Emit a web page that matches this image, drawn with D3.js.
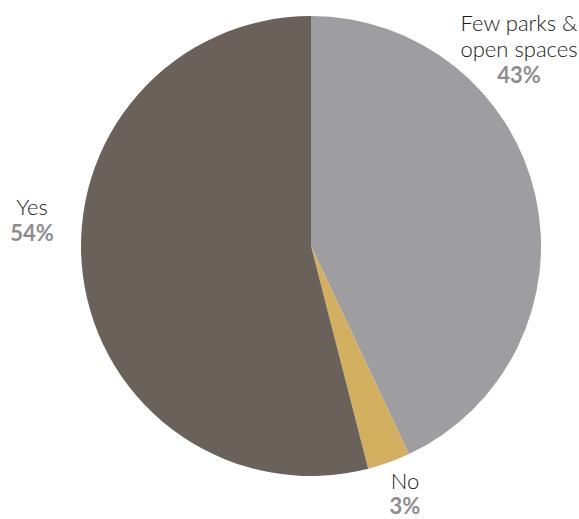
<!DOCTYPE html>
<html><head><meta charset="utf-8">
<script src="https://cdn.jsdelivr.net/npm/d3@7"></script>
<style>body{margin:0;background:#fff}svg{display:block}</style>
</head><body>
<script>
const categories = ["Few parks &\nopen spaces", "No", "Yes"];
const values = [43, 3, 54];
const percentLabels = ["43%", "3%", "54%"];
const colors = ["#9e9d9f", "#d3b05f", "#6b615b"];

const W = 579, H = 519;
const cx = 311, cy = 246, R = 230;
const svg = d3.select("body").append("svg").attr("width", W).attr("height", H);
const g = svg.append("g").attr("transform", `translate(${cx},${cy})`);
const pie = d3.pie().sort(null).value(d => d)(values);
const arc = d3.arc().innerRadius(0).outerRadius(R);
g.selectAll("path").data(pie).enter().append("path")
  .attr("d", arc).attr("fill", (d, i) => colors[i]);

// label positions (anchor centers, first baseline)
const labelPos = [[519, 31], [405, 489], [32, 215]];
const lh = 26;
categories.forEach((c, i) => {
  const lines = c.split("\n");
  const t = svg.append("text").attr("text-anchor", "middle")
    .attr("font-family", "Lato, 'Open Sans', sans-serif");
  lines.forEach((ln, j) => {
    t.append("tspan").attr("x", labelPos[i][0]).attr("y", labelPos[i][1] + j * lh)
      .attr("font-size", 22).attr("font-weight", 300).attr("fill", "#1a1a1a").text(ln);
  });
  t.append("tspan").attr("x", labelPos[i][0]).attr("y", Math.min(labelPos[i][1] + lines.length * lh, 514))
    .attr("font-size", 22).attr("font-weight", "bold").attr("fill", "#8e8d8e").text(percentLabels[i]);
});
</script>
</body></html>
